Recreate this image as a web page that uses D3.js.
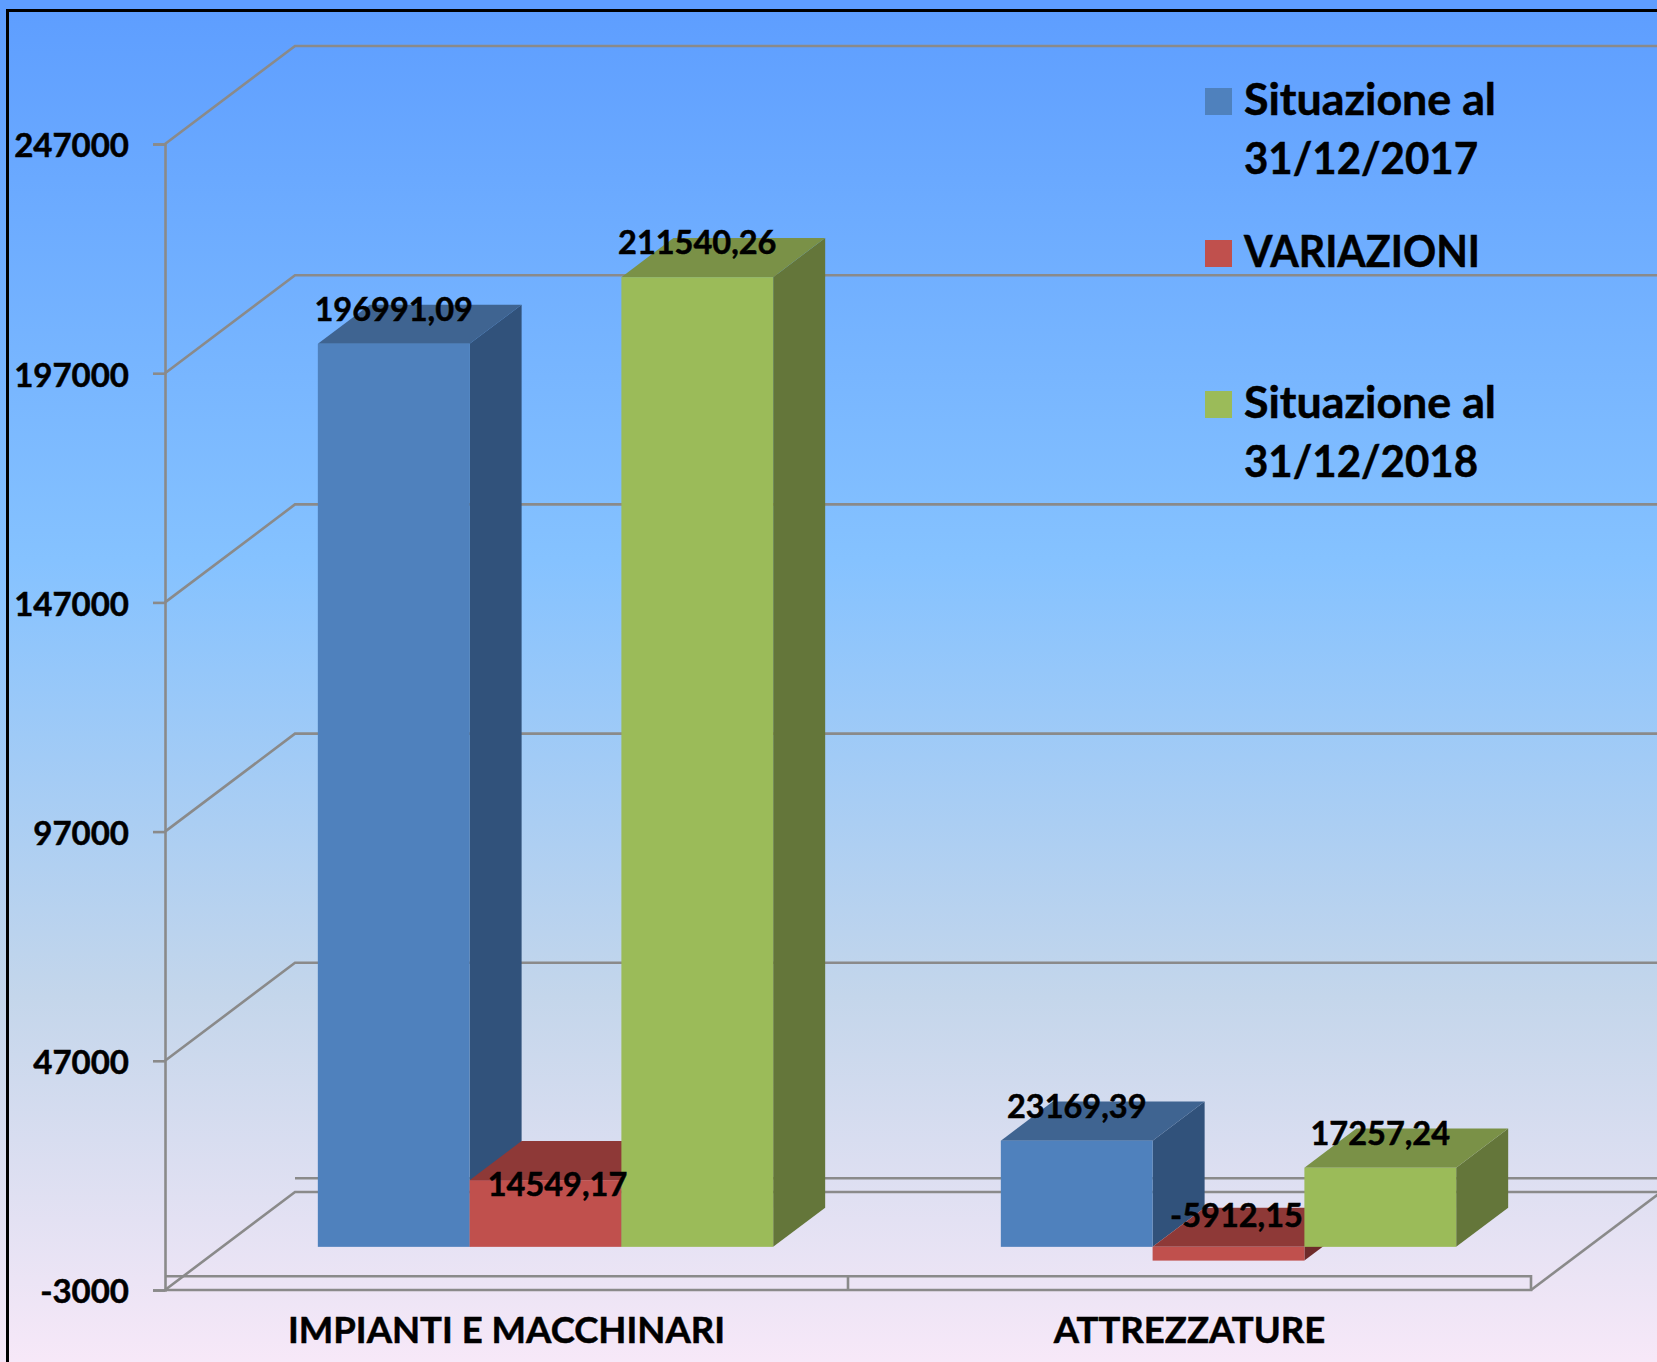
<!DOCTYPE html>
<html><head><meta charset="utf-8">
<script src="https://cdn.jsdelivr.net/npm/d3@7/dist/d3.min.js"></script>
<style>html,body{margin:0;padding:0;overflow:hidden}svg{display:block}text{font-family:Lato,"Noto Sans",sans-serif;font-weight:700;fill:#000;stroke:#000;stroke-width:.5px}</style>
</head><body>
<script>
const categories = ["IMPIANTI E MACCHINARI", "ATTREZZATURE"];
const seriesNames = ["Situazione al 31/12/2017", "VARIAZIONI", "Situazione al 31/12/2018"];
const values2017 = [196991.09, 23169.39];
const variazioni = [14549.17, -5912.15];
const values2018 = [211540.26, 17257.24];
const yTicks = [-3000, 47000, 97000, 147000, 197000, 247000];

const W = 1657, H = 1362;
const faceFront = ["#4F81BD", "#C0504D", "#9BBB59"];
const faceTop = ["#3F6491", "#8E3937", "#7A9147"];
const faceSide = ["#31527B", "#6E2B2A", "#64763A"];
const gridColor = "#8A8A8A";
const seriesValues = [values2017, variazioni, values2018];
const labelNudge = [[[0, 0], [12, 39], [0, 0]], [[0, 0], [8, 3], [0, 0]]];

const svg = d3.select("body").append("svg").attr("width", W).attr("height", H);
const grad = svg.append("defs").append("linearGradient").attr("id", "bg")
  .attr("gradientUnits", "userSpaceOnUse").attr("x1", 0).attr("x2", 0).attr("y1", 10).attr("y2", 1420);
[[0, "#5E9EFF"], [.39, "#85C2FF"], [.7, "#C4D6EB"], [1, "#FFEBFA"]].forEach(([o, c]) =>
  grad.append("stop").attr("offset", o).attr("stop-color", c));
svg.append("rect").attr("width", W).attr("height", H).attr("fill", "url(#bg)");
svg.append("path").attr("d", `M7.5,${H}V10.5H${W}`).attr("fill", "none").attr("stroke", "#000").attr("stroke-width", 3);

const axisX = 165, plotR = 1531, depthX = 130, depthY = 98;
const y = d3.scaleLinear().domain([-3000, 247000]).range([1290, 144]).clamp(true);
const x0 = d3.scaleBand().domain(categories).range([axisX, plotR]);
const x1 = d3.scaleBand().domain(seriesNames).range([x0.bandwidth() / 6, x0.bandwidth() * 5 / 6]);
const px = (x, d) => x + depthX * d;
const py = (v, d) => y(v) - depthY * d;
const line = d3.line();
const grid = svg.append("g").attr("fill", "none").attr("stroke", gridColor).attr("stroke-width", 2.6);

// wall gridlines
yTicks.forEach(t => {
  grid.append("path").attr("d", line([[axisX, y(t)], [px(axisX, 1), py(t, 1)], [W + 5, py(t, 1)]]));
});
// zero plane back edge and floor outlines
grid.append("path").attr("d", line([[px(axisX, 1), py(0, 1)], [W + 5, py(0, 1)]]));
grid.append("path").attr("d", line([[axisX, y(0)], [plotR, y(0)], [plotR, y(-3000)], [axisX, y(-3000)]]));
grid.append("path").attr("d", line([[plotR, y(-3000)], [px(plotR, 1), py(-3000, 1)]]));
const sep = x0.step() + axisX;
grid.append("path").attr("d", line([[sep, y(0)], [sep, y(-3000)]]));

// value axis
const axisG = svg.append("g").attr("transform", `translate(${axisX},0)`)
  .call(d3.axisLeft(y).tickValues(yTicks).tickSize(12).tickPadding(24).tickFormat(d => String(d)));
axisG.selectAll("path,line").attr("stroke", gridColor).attr("stroke-width", 2.6);
axisG.selectAll("text").attr("font-size", 33).attr("dy", "0.39em");
axisG.attr("font-family", null);

// bars
const d0 = 0.3, d1 = 0.7;
const fmt = v => v.toFixed(2).replace(".", ",");
categories.forEach((cat, ci) => {
  const g = svg.append("g");
  seriesNames.forEach((s, si) => {
    const v = seriesValues[si][ci];
    const xa = x0(cat) + x1(s) + depthX * d0, xb = xa + x1.bandwidth();
    const dd = depthX * (d1 - d0);
    const fy = t => py(t, d0), by = t => py(t, d1);
    const hi = Math.max(v, 0), lo = Math.min(v, 0);
    g.append("path").attr("fill", faceSide[si]).attr("d", line([[xb, fy(hi)], [xb + dd, by(hi)], [xb + dd, by(lo)], [xb, fy(lo)]]) + "Z");
    g.append("path").attr("fill", faceTop[si]).attr("d", line([[xa, fy(hi)], [xa + dd, by(hi)], [xb + dd, by(hi)], [xb, fy(hi)]]) + "Z");
    g.append("rect").attr("fill", faceFront[si]).attr("x", xa).attr("width", xb - xa)
      .attr("y", fy(hi)).attr("height", fy(lo) - fy(hi));
  });
});
// data labels
categories.forEach((cat, ci) => {
  seriesNames.forEach((s, si) => {
    const v = seriesValues[si][ci];
    const xa = x0(cat) + x1(s) + depthX * d0;
    const [nx, ny] = labelNudge[ci][si];
    svg.append("text").attr("text-anchor", "middle").attr("font-size", 32.5)
      .attr("x", xa + x1.bandwidth() / 2 + nx).attr("y", py(Math.max(v, 0), d0) - 23 + ny).text(fmt(v));
  });
});
// category labels
categories.forEach(cat => {
  svg.append("text").attr("text-anchor", "middle").attr("font-size", 36.5)
    .attr("x", x0(cat) + x0.bandwidth() / 2).attr("y", 1343).text(cat);
});
// legend
const legendLines = [["Situazione al", "31/12/2017"], ["VARIAZIONI"], ["Situazione al", "31/12/2018"]];
const legendWidths = [[252, 234], [236], [252, 234]];
const legendY = [115, 267, 418];
legendLines.forEach((ls, i) => {
  svg.append("rect").attr("x", 1205).attr("y", legendY[i] - 27).attr("width", 27).attr("height", 27).attr("fill", faceFront[i]);
  ls.forEach((t, j) => svg.append("text").attr("x", 1244).attr("y", legendY[i] + j * 59).attr("font-size", 43)
    .attr("textLength", legendWidths[i][j]).attr("lengthAdjust", "spacingAndGlyphs").text(t));
});
</script>
</body></html>
